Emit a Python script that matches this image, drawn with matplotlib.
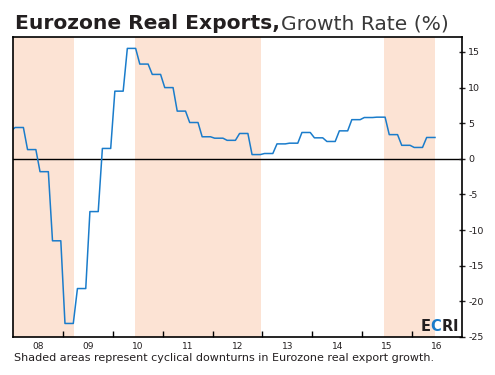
import numpy as np
import matplotlib.pyplot as plt

# quarterly growth rates (%), plotted as monthly points, Q1 2008 .. Q2 2016
quarters = [4.4, 1.3, -1.8, -11.5,
            -23.1, -18.2, -7.4, 1.46,
            9.5, 15.5, 13.3, 11.85,
            10.0, 6.7, 5.1, 3.1,
            2.9, 2.6, 3.56, 0.6,
            0.75, 2.1, 2.2, 3.7,
            2.95, 2.44, 3.93, 5.5,
            5.8, 5.85, 3.4, 1.9,
            1.6, 3.0]
dec_2007 = 3.9

downturns = [(2007.9, 2009.23), (2010.45, 2012.97), (2015.43, 2016.46)]
year_labels = ['08', '09', '10', '11', '12', '13', '14', '15', '16']
yticks = [15, 10, 5, 0, -5, -10, -15, -20, -25]

blue = '#1a7ccb'
peach = '#fce3d4'
dark = '#231f20'

values = np.concatenate([[dec_2007], np.repeat(quarters, 3)])
months = np.arange(-1, len(values) - 1)
t = 2008 + (months + 0.5) / 12.0

plt.rcParams['font.family'] = ['DejaVu Sans']

fig = plt.figure(figsize=(4.95, 3.75), dpi=100)
ax = fig.add_axes([13 / 495, 1 - 337 / 375, 449 / 495, 300 / 375])

for a, b in downturns:
    ax.axvspan(a, b, color=peach, lw=0, zorder=0)

ax.axhline(0, color='black', lw=1.0, zorder=1)
ax.plot(t, values, color=blue, lw=1.1, zorder=2)

ax.set_xlim(2008, 2017)
ax.set_ylim(-25, 17.1)

ax.yaxis.tick_right()
ax.set_yticks(yticks)
ax.set_yticklabels([str(v) for v in yticks])
ax.tick_params(axis='y', direction='inout', length=5, width=1, labelsize=6.8,
               pad=2, colors=dark)

ax.set_xticks(np.arange(2009, 2017))
ax.set_xticklabels([])
ax.set_xticks(np.arange(2008.5, 2017), minor=True)
ax.set_xticklabels(year_labels, minor=True)
ax.tick_params(axis='x', which='major', direction='in', length=4, width=1,
               top=False)
ax.tick_params(axis='x', which='minor', length=0, labelsize=6.5, pad=3.5,
               colors=dark)

for s in ax.spines.values():
    s.set_linewidth(1.2)

fig.canvas.draw()
r = fig.canvas.get_renderer()

t1 = fig.text(15 / 495, 1 - 29 / 375, 'Eurozone Real Exports,', fontsize=14.6,
              fontweight='bold', color=dark, va='baseline')
w1 = t1.get_window_extent(r).width
fig.text((15 + w1 + 1) / 495, 1 - 29 / 375, 'Growth Rate (%)', fontsize=14.6,
         fontweight='normal', color='#3a3a3a', va='baseline')

fig.text(14 / 495, 1 - 361 / 375,
         'Shaded areas represent cyclical downturns in Eurozone real export growth.',
         fontsize=8.0, color=dark, va='baseline')

# ECRI logo, letters laid side by side, right-aligned at the axes edge
letters = [('E', dark), ('C', blue), ('R', dark), ('I', dark)]
x = 458
for ch, col in reversed(letters):
    tx = fig.text(x / 495, 1 - 331 / 375, ch, fontsize=10.5, fontweight='bold',
                  color=col, ha='right', va='baseline')
    x -= tx.get_window_extent(r).width

fig.savefig('out.png', dpi=100)
